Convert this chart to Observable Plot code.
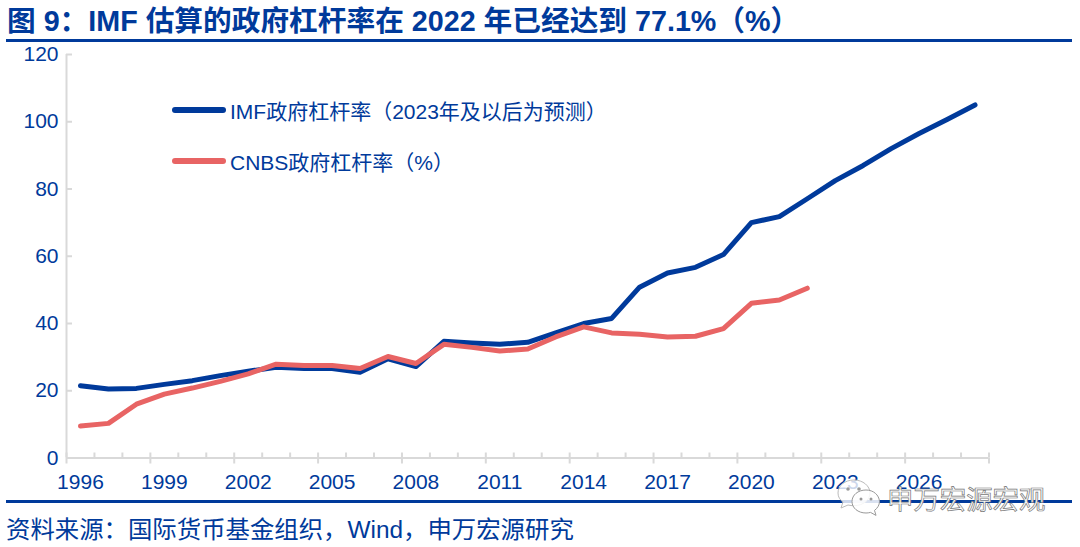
<!DOCTYPE html>
<html><head><meta charset="utf-8">
<script src="https://cdn.jsdelivr.net/npm/d3@7"></script>
<script src="https://cdn.jsdelivr.net/npm/@observablehq/plot@0.6"></script>
<style>
html,body{margin:0;padding:0;background:#fff;overflow:hidden}
#wrap{position:relative;width:1080px;height:547px;font-family:"Liberation Sans","Noto Sans CJK SC",sans-serif;color:#003a9b}
#wrap>*{position:absolute}
#chart{left:0;top:0}
.rule{background:#003a9b;left:6px;width:1066px}
#title{left:7px;top:3px;font-size:28.7px;font-weight:700;white-space:nowrap;line-height:36px}
#source{left:6px;top:514px;font-size:24.4px;white-space:nowrap;line-height:32px}
.lg{font-size:21px;white-space:nowrap;line-height:26px;left:230px}
.sw{left:172px;width:54px;height:6px;border-radius:3px}
#wm{left:887px;top:484px;font-size:26.4px;line-height:32px;white-space:nowrap;color:#fff;-webkit-text-stroke:0.7px #777}
#icon{left:834px;top:474px}
</style></head><body>
<div id="wrap">
<div id="chart"></div>
<div id="title">图 9：IMF 估算的政府杠杆率在 2022 年已经达到 77.1%（%）</div>
<div class="rule" style="top:39px;height:3px"></div>
<div class="sw" style="top:107px;background:#003a9b"></div>
<div class="lg" style="top:99px">IMF政府杠杆率（2023年及以后为预测）</div>
<div class="sw" style="top:158px;background:#e86464"></div>
<div class="lg" style="top:150px">CNBS政府杠杆率（%）</div>
<div class="rule" style="top:500px;height:3px"></div>
<div id="source">资料来源：国际货币基金组织，Wind，申万宏源研究</div>
<svg id="icon" width="50" height="46" viewBox="0 0 50 46">
<path d="M20 6c-9 0-16 5.500-16 13 0 4 2 7 5 9l-2 6 7-3c2 .5 4 .7 6 .7 9 0 16-5.700 16-12.700S29 6 20 6z" fill="rgba(255,255,255,.8)" stroke="#bbb"/>
<path d="M32 16c-8 0-14 5-14 11.500S24 39 32 39c1.500 0 3-.2 4.500-.6l5.500 3-1.500-5c3-2.200 5-5.400 5-9C45 21 39.500 16 32 16z" fill="rgba(255,255,255,.85)" stroke="#999"/>
<circle cx="14" cy="15" r="1.800" fill="#999"/><circle cx="25" cy="15" r="1.800" fill="#999"/>
<circle cx="27" cy="25" r="1.500" fill="#999"/><circle cx="37" cy="25" r="1.500" fill="#999"/>
</svg>
<div id="wm">申万宏源宏观</div>
</div>
<script>
const years = d3.range(1996, 2029);
const imf = [21.5,20.5,20.7,21.9,23,24.5,25.8,27,26.6,26.6,25.5,29.5,27.2,34.7,34.2,33.8,34.4,37.2,40,41.5,50.8,55,56.7,60.5,70,71.8,77.1,82.5,87,92,96.5,100.7,105];
const cnbs = [9.5,10.3,16,19,20.8,22.8,25,27.9,27.5,27.5,26.6,30.2,28.1,33.8,32.9,31.8,32.4,36,39,37.2,36.8,36,36.2,38.5,46,47,50.5];
const labelYears = [1996,1999,2002,2005,2008,2011,2014,2017,2020,2023,2026];
const yTicks = [0,20,40,60,80,100,120];
const majorEdges = d3.range(1995.5, 2029, 3);
const minorEdges = d3.range(1995.5, 2029, 1);
const axisColor = "#d9d9d9", ink = "#003a9b", red = "#e86464";
const imfRows = imf.map((v,i)=>({year:years[i],v}));
const cnbsRows = cnbs.map((v,i)=>({year:years[i],v}));
const chart = Plot.plot({
  width:1080, height:547,
  marginLeft:66, marginRight:91.5, marginTop:54, marginBottom:89.5,
  style:{background:"transparent",fontFamily:'"Liberation Sans","Noto Sans CJK SC",sans-serif',overflow:"visible"},
  x:{domain:[1995.5,2028.5],label:null},
  y:{domain:[0,120],label:null},
  marks:[
    Plot.ruleX([1995.5],{stroke:axisColor,strokeWidth:2}),
    Plot.ruleY([0],{stroke:axisColor,strokeWidth:2}),
    Plot.axisY({ticks:yTicks,tickSize:-6,stroke:axisColor,strokeWidth:2,strokeOpacity:1,text:null,label:null}),
    Plot.axisY({ticks:yTicks,tickSize:0,tickPadding:8,fontSize:21,fill:ink,label:null}),
    Plot.axisX({ticks:minorEdges,tickSize:-5,stroke:axisColor,strokeWidth:2,strokeOpacity:1,text:null,label:null}),
    Plot.axisX({ticks:majorEdges,tickSize:6,stroke:axisColor,strokeWidth:2,strokeOpacity:1,text:null,label:null}),
    Plot.axisX({ticks:labelYears,tickSize:0,tickPadding:16,fontSize:21,fill:ink,tickFormat:d=>String(d),label:null}),
    Plot.line(imfRows,{x:"year",y:"v",stroke:ink,strokeWidth:5,strokeLinejoin:"round"}),
    Plot.line(cnbsRows,{x:"year",y:"v",stroke:red,strokeWidth:5,strokeLinejoin:"round"})
  ]
});
document.getElementById("chart").appendChild(chart);
</script>
</body></html>
